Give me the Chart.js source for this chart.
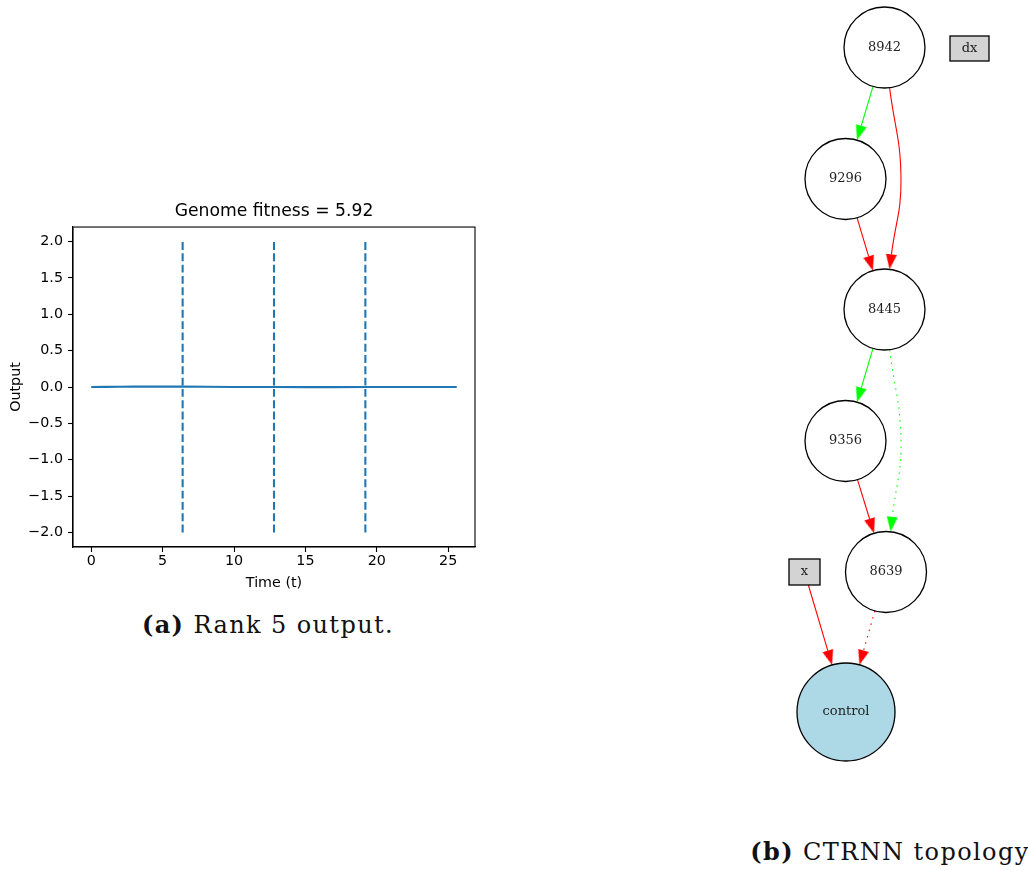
<!DOCTYPE html>
<html>
<head>
<meta charset="utf-8">
<script src="https://cdn.jsdelivr.net/npm/chart.js@4.4.1/dist/chart.umd.min.js"></script>
<style>
  html, body { margin: 0; padding: 0; background: #fff; }
  body { width: 1028px; height: 871px; position: relative; overflow: hidden; }
  #outputCanvas { position: absolute; left: 0; top: 195px; }
  #topologyCanvas { position: absolute; left: 760px; top: 0; }
  .caption {
    position: absolute; transform: translateX(-50%);
    font-family: 'DejaVu Serif', serif; font-size: 24px; line-height: 24px;
    letter-spacing: 1.4px; color: #111; white-space: nowrap;
  }
  #capA { left: 268px; top: 613px; }
  #capB { left: 890px; top: 840px; }
</style>
</head>
<body>
<canvas id="outputCanvas" width="490" height="400"></canvas>
<canvas id="topologyCanvas" width="268" height="800"></canvas>
<div class="caption" id="capA"><b>(a)</b> Rank 5 output.</div>
<div class="caption" id="capB"><b>(b)</b> CTRNN topology</div>

<script>
// network output over one episode
const timeValues   = [0, 1, 2, 3, 4, 5, 6.4, 8, 10, 12.8, 15, 17, 19.2, 21, 23, 25.6];
const outputValues = [0, 0.002, 0.004, 0.005, 0.006, 0.006, 0.005, 0.003, 0.001, 0, -0.001, -0.001, 0, 0, 0, 0];
const resetTimes   = [6.4, 12.8, 19.2];
const resetSpan    = [-2, 2];
const timeTicks    = [0, 5, 10, 15, 20, 25];
const outputTicks  = [-2, -1.5, -1, -0.5, 0, 0.5, 1, 1.5, 2];

// CTRNN genome: hidden/output nodes, inputs and connections
const nodeIds  = ['8942', '9296', '8445', '9356', '8639', 'control'];
const nodeX    = [884.5, 845.5, 884.5, 845.5, 886, 846];
const nodeY    = [47.5, 179, 309.5, 441, 572, 712];
const inputIds = ['dx', 'x'];
const inputX   = [969.5, 804.5];
const inputY   = [48.5, 572];
const edgeFrom    = ['8942', '8942', '9296', '8445', '8445', '9356', 'x', '8639'];
const edgeTo      = ['9296', '8445', '8445', '9356', '8639', '8639', 'control', 'control'];
const edgeSign    = [1, -1, -1, 1, 1, -1, -1, -1];
const edgeEnabled = [true, true, true, true, false, true, true, false];

Chart.defaults.font.family = "'DejaVu Sans', sans-serif";
Chart.defaults.color = '#000';

const BLUE = '#1f77b4';
const TICK_FONT = { size: 14.3 };
const minus = s => s.replace('-', '\u2212');

// full box around the plot area
const axesFrame = {
  id: 'axesFrame',
  afterDraw(chart) {
    const { ctx, chartArea: a } = chart;
    ctx.save();
    ctx.strokeStyle = '#000';
    ctx.lineWidth = 1.1;
    ctx.strokeRect(a.left, a.top, a.right - a.left, a.bottom - a.top);
    ctx.restore();
  }
};

const outputDatasets = [{
  data: timeValues.map((t, i) => ({ x: t, y: outputValues[i] })),
  borderColor: BLUE, borderWidth: 2.1, showLine: true, pointRadius: 0
}];
resetTimes.forEach(t => {
  outputDatasets.push({
    data: resetSpan.map(v => ({ x: t, y: v })),
    borderColor: BLUE, borderWidth: 2.1, borderDash: [7.9, 3.4],
    showLine: true, pointRadius: 0
  });
});

new Chart(document.getElementById('outputCanvas'), {
  type: 'scatter',
  data: { datasets: outputDatasets },
  plugins: [axesFrame],
  options: {
    responsive: false,
    animation: false,
    events: [],
    layout: { padding: { left: 0, right: 15, top: 0, bottom: 0 }, autoPadding: false },
    plugins: {
      legend: { display: false },
      tooltip: { enabled: false },
      title: {
        display: true, fullSize: false, text: 'Genome fitness = 5.92', color: '#000',
        font: { size: 17.2, weight: 'normal', lineHeight: 1.2 },
        padding: { top: 6.7, bottom: 4.7 }
      }
    },
    scales: {
      x: {
        type: 'linear', min: -1.28, max: 26.88,
        afterBuildTicks: s => { s.ticks = timeTicks.map(v => ({ value: v })); },
        afterFit: s => { s.height = 48; },
        ticks: { font: TICK_FONT, padding: 1, maxRotation: 0, callback: v => String(v) },
        grid: { drawOnChartArea: false, tickLength: 5, tickColor: '#000', tickWidth: 1.1 },
        border: { display: true, color: '#000', width: 1.1 },
        title: { display: true, text: 'Time (t)', font: { size: 14.3, lineHeight: 1.2 }, padding: { top: 0, bottom: 3.6 } }
      },
      y: {
        type: 'linear', min: -2.2, max: 2.2,
        afterBuildTicks: s => { s.ticks = outputTicks.map(v => ({ value: v })); },
        afterFit: s => { s.width = 73; },
        ticks: { font: TICK_FONT, padding: 5, callback: v => minus(v.toFixed(1)) },
        grid: { drawOnChartArea: false, tickLength: 5, tickColor: '#000', tickWidth: 1.1 },
        border: { display: true, color: '#000', width: 1.1 },
        title: { display: true, text: 'Output', font: { size: 14.3, lineHeight: 1.2 }, padding: { top: 7.6, bottom: 0 } }
      }
    }
  }
});

// ---------- topology graph ----------
const NODE_R = 40.5;
const OUTPUT_R = 49;
const BOX_SIZE = { dx: [39, 25], x: [31, 26] };
const BEND_X = { '8942>8445': 901, '8445>8639': 901 };
const ARROW_W = 11, ARROW_L = 15;
const GREEN = '#00ff00', RED = '#ff0000';

function shapeOf(id) {
  const n = nodeIds.indexOf(id);
  if (n >= 0) return { x: nodeX[n], y: nodeY[n], r: id === 'control' ? OUTPUT_R : NODE_R };
  const i = inputIds.indexOf(id);
  return { x: inputX[i], y: inputY[i], box: BOX_SIZE[id] };
}

// point on the outline of a node, heading towards (tx, ty)
function outline(s, tx, ty) {
  const vx = tx - s.x, vy = ty - s.y;
  const len = Math.hypot(vx, vy);
  if (s.r) return { x: s.x + vx / len * s.r, y: s.y + vy / len * s.r };
  const t = Math.min(s.box[0] / 2 / Math.abs(vx || 1e-9), s.box[1] / 2 / Math.abs(vy || 1e-9));
  return { x: s.x + vx * t, y: s.y + vy * t };
}

function arrowImage(color) {
  const c = document.createElement('canvas');
  c.width = ARROW_W; c.height = ARROW_L;
  const g = c.getContext('2d');
  g.fillStyle = color;
  g.beginPath();
  g.moveTo(ARROW_W / 2, 0);
  g.lineTo(ARROW_W, ARROW_L);
  g.lineTo(0, ARROW_L);
  g.closePath();
  g.fill();
  return c;
}
const arrowImgs = { 1: arrowImage(GREEN), '-1': arrowImage(RED) };

const edgeDatasets = [];
const arrowPoints = [], arrowRot = [], arrowStyle = [];
edgeFrom.forEach((from, i) => {
  const a = shapeOf(from), b = shapeOf(edgeTo[i]);
  const bendX = BEND_X[from + '>' + edgeTo[i]];
  const via = bendX ? { x: bendX, y: (a.y + b.y) / 2 } : null;
  const start = outline(a, via ? via.x : b.x, via ? via.y : b.y);
  const tip = outline(b, via ? via.x : a.x, via ? via.y : a.y);
  const from2 = via || start;
  const len = Math.hypot(tip.x - from2.x, tip.y - from2.y);
  const ux = (tip.x - from2.x) / len, uy = (tip.y - from2.y) / len;
  const base = { x: tip.x - ux * ARROW_L, y: tip.y - uy * ARROW_L };
  const color = edgeSign[i] > 0 ? GREEN : RED;
  edgeDatasets.push({
    data: via ? [start, via, base] : [start, base],
    borderColor: color, borderWidth: 1.1,
    borderDash: edgeEnabled[i] ? [] : [1.5, 5],
    tension: via ? 0.45 : 0,
    showLine: true, pointRadius: 0, clip: false
  });
  arrowPoints.push({ x: tip.x - ux * ARROW_L / 2, y: tip.y - uy * ARROW_L / 2 });
  arrowRot.push(Math.atan2(ux, -uy) * 180 / Math.PI);
  arrowStyle.push(arrowImgs[edgeSign[i]]);
});

const nodeDataset = {
  data: nodeIds.map((id, i) => ({ x: nodeX[i], y: nodeY[i] })),
  pointRadius: nodeIds.map(id => id === 'control' ? OUTPUT_R : NODE_R),
  pointHoverRadius: 0,
  pointBackgroundColor: nodeIds.map(id => id === 'control' ? '#add8e6' : '#ffffff'),
  pointBorderColor: '#000', pointBorderWidth: 1.3,
  clip: false
};

const arrowDataset = {
  data: arrowPoints,
  pointStyle: arrowStyle,
  rotation: arrowRot,
  pointRadius: 7, pointHoverRadius: 0,
  clip: false
};

// input boxes and node names
const topologyLabels = {
  id: 'topologyLabels',
  afterDatasetsDraw(chart) {
    const { ctx, scales: { x, y } } = chart;
    ctx.save();
    inputIds.forEach((id, i) => {
      const px = x.getPixelForValue(inputX[i]), py = y.getPixelForValue(inputY[i]);
      const [w, h] = BOX_SIZE[id];
      ctx.fillStyle = '#d3d3d3';
      ctx.fillRect(px - w / 2, py - h / 2, w, h);
      ctx.strokeStyle = '#000';
      ctx.lineWidth = 1.3;
      ctx.strokeRect(px - w / 2, py - h / 2, w, h);
    });
    ctx.fillStyle = '#222';
    ctx.font = "13px 'DejaVu Serif', serif";
    ctx.textAlign = 'center';
    ctx.textBaseline = 'middle';
    inputIds.forEach((id, i) => {
      ctx.fillText(id, x.getPixelForValue(inputX[i]), y.getPixelForValue(inputY[i]));
    });
    nodeIds.forEach((id, i) => {
      ctx.fillText(id, x.getPixelForValue(nodeX[i]), y.getPixelForValue(nodeY[i]));
    });
    ctx.restore();
  }
};

new Chart(document.getElementById('topologyCanvas'), {
  type: 'scatter',
  data: { datasets: [nodeDataset, arrowDataset, ...edgeDatasets] },
  plugins: [topologyLabels],
  options: {
    responsive: false,
    animation: false,
    events: [],
    layout: { padding: 0, autoPadding: false },
    plugins: { legend: { display: false }, tooltip: { enabled: false }, title: { display: false } },
    scales: {
      x: { type: 'linear', min: 760, max: 1028, display: false },
      y: { type: 'linear', min: 0, max: 800, reverse: true, display: false }
    }
  }
});
</script>
</body>
</html>
